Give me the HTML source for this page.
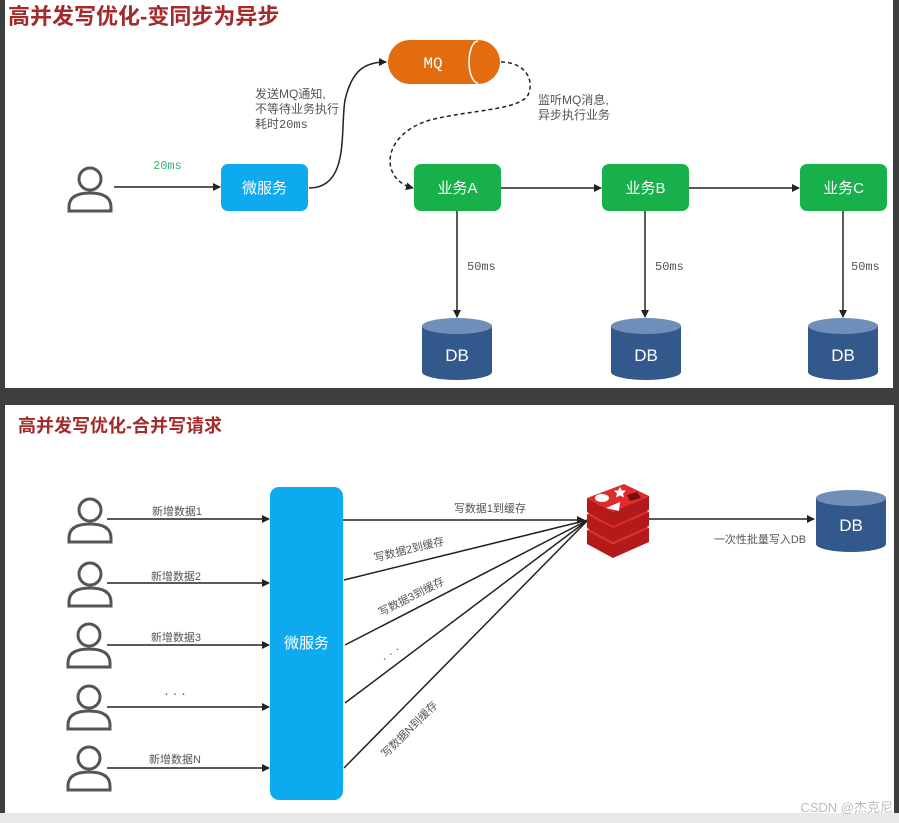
<!DOCTYPE html>
<html><head><meta charset="utf-8"><style>
html,body{margin:0;padding:0;background:#3d3f3e;}
svg{display:block;}
text{font-family:"Liberation Sans","Noto Sans CJK SC",sans-serif;}
.mono{font-family:"Liberation Mono","Noto Sans CJK SC",monospace;}
</style></head><body>
<svg width="899" height="823" viewBox="0 0 899 823" xmlns="http://www.w3.org/2000/svg">
<defs>
<marker id="ar" markerWidth="8" markerHeight="8" refX="7" refY="4" orient="auto" markerUnits="userSpaceOnUse"><path d="M0,0 L8,4 L0,8 Z" fill="#222"/></marker>
<g id="user" fill="none" stroke="#555" stroke-width="3"><circle cx="0" cy="-10" r="11"/><path d="M-21,22 L-21,18 Q-21,4 0,4 Q21,4 21,18 L21,22 Z"/></g>
<g id="db"><path d="M0,8 L0,54 A35,8 0 0 0 70,54 L70,8 Z" fill="#33598c"/><ellipse cx="35" cy="8" rx="35" ry="8" fill="#6f8fb8"/></g>
<g id="slab"><path d="M587,498 L587,512 L613,526 L649,510 L649,496 L613,512 Z" fill="#b51a1a"/><path d="M587,498 L624,484 L649,496 L613,512 Z" fill="#dc2c2c"/></g>
</defs>
<rect x="0" y="0" width="899" height="823" fill="#3d3f3e"/>
<rect x="0" y="813" width="899" height="10" fill="#e8e8e8"/>
<rect x="5" y="0" width="888" height="388" fill="#fff"/>
<rect x="5" y="405" width="889" height="408" fill="#fff"/>

<!-- TOP -->
<text x="8" y="24" font-size="22" font-weight="bold" fill="#a52a2a">高并发写优化-变同步为异步</text>
<use href="#user" x="90" y="189"/>
<line x1="114" y1="187" x2="220" y2="187" stroke="#222" stroke-width="1.5" marker-end="url(#ar)"/>
<text x="153" y="169" class="mono" font-size="12" fill="#3cb371">20ms</text>
<rect x="221" y="164" width="87" height="47" rx="7" fill="#0eaaf0"/>
<text x="264.5" y="193" font-size="15" fill="#fff" text-anchor="middle">微服务</text>
<path d="M309,188 C350,188 340,130 345,100 C352,70 365,62 386,62" fill="none" stroke="#222" stroke-width="1.5" marker-end="url(#ar)"/>
<text x="255" y="98" font-size="12" fill="#555">发送MQ通知,</text>
<text x="255" y="113" font-size="12" fill="#555">不等待业务执行</text>
<text x="255" y="128" font-size="12" fill="#555">耗时<tspan class="mono">20ms</tspan></text>
<rect x="388" y="40" width="112" height="44" rx="22" fill="#e36c0f"/>
<path d="M478,41 A9,21 0 0 0 478,83" fill="none" stroke="#fff" stroke-width="1.5"/>
<text x="433" y="68" class="mono" font-size="16" fill="#fff" text-anchor="middle">MQ</text>
<path d="M501,62 C525,62 535,80 528,95 C520,110 470,110 430,120 C380,135 380,180 413,188" fill="none" stroke="#222" stroke-width="1.5" stroke-dasharray="4,3" marker-end="url(#ar)"/>
<text x="538" y="104" font-size="12" fill="#555">监听MQ消息,</text>
<text x="538" y="119" font-size="12" fill="#555">异步执行业务</text>
<rect x="414" y="164" width="87" height="47" rx="7" fill="#17b04a"/>
<rect x="602" y="164" width="87" height="47" rx="7" fill="#17b04a"/>
<rect x="800" y="164" width="87" height="47" rx="7" fill="#17b04a"/>
<text x="457.5" y="193" font-size="15" fill="#fff" text-anchor="middle">业务A</text>
<text x="645.5" y="193" font-size="15" fill="#fff" text-anchor="middle">业务B</text>
<text x="843.5" y="193" font-size="15" fill="#fff" text-anchor="middle">业务C</text>
<line x1="501" y1="188" x2="601" y2="188" stroke="#222" stroke-width="1.5" marker-end="url(#ar)"/>
<line x1="689" y1="188" x2="799" y2="188" stroke="#222" stroke-width="1.5" marker-end="url(#ar)"/>
<line x1="457" y1="211" x2="457" y2="317" stroke="#222" stroke-width="1.5" marker-end="url(#ar)"/>
<line x1="645" y1="211" x2="645" y2="317" stroke="#222" stroke-width="1.5" marker-end="url(#ar)"/>
<line x1="843" y1="211" x2="843" y2="317" stroke="#222" stroke-width="1.5" marker-end="url(#ar)"/>
<text x="467" y="270" class="mono" font-size="12" fill="#555">50ms</text>
<text x="655" y="270" class="mono" font-size="12" fill="#555">50ms</text>
<text x="851" y="270" class="mono" font-size="12" fill="#555">50ms</text>
<use href="#db" x="422" y="318"/><use href="#db" x="611" y="318"/><use href="#db" x="808" y="318"/>
<text x="457" y="361" font-size="17" fill="#fff" text-anchor="middle">DB</text>
<text x="646" y="361" font-size="17" fill="#fff" text-anchor="middle">DB</text>
<text x="843" y="361" font-size="17" fill="#fff" text-anchor="middle">DB</text>

<!-- BOTTOM -->
<text x="18" y="432" font-size="18" font-weight="bold" fill="#a52a2a">高并发写优化-合并写请求</text>
<g>
<use href="#user" x="90" y="520"/><use href="#user" x="90" y="584"/><use href="#user" x="89" y="645"/><use href="#user" x="89" y="707"/><use href="#user" x="89" y="768"/>
</g>
<g stroke="#222" stroke-width="1.5" marker-end="url(#ar)">
<line x1="107" y1="519" x2="269" y2="519"/>
<line x1="107" y1="583" x2="269" y2="583"/>
<line x1="107" y1="645" x2="269" y2="645"/>
<line x1="107" y1="707" x2="269" y2="707"/>
<line x1="107" y1="768" x2="269" y2="768"/>
</g>
<g font-size="11" fill="#555" text-anchor="middle">
<text x="177" y="515">新增数据1</text><text x="176" y="580">新增数据2</text><text x="176" y="641">新增数据3</text><text x="175" y="698" font-size="14">· · ·</text><text x="175" y="763">新增数据N</text>
</g>
<rect x="270" y="487" width="73" height="313" rx="9" fill="#0eaaf0"/>
<text x="306.5" y="648" font-size="15" fill="#fff" text-anchor="middle">微服务</text>
<g stroke="#222" stroke-width="1.5" fill="none">
<line x1="343" y1="520" x2="584" y2="520" marker-end="url(#ar)"/>
<line x1="344" y1="580" x2="588" y2="520"/>
<line x1="345" y1="645" x2="588" y2="520"/>
<line x1="345" y1="703" x2="588" y2="520"/>
<line x1="344" y1="768" x2="588" y2="520"/>
</g>
<text x="490" y="512" font-size="11" fill="#555" text-anchor="middle">写数据1到缓存</text>
<text x="410" y="553" font-size="11" fill="#555" text-anchor="middle" transform="rotate(-14 410 553)">写数据2到缓存</text>
<text x="413" y="600" font-size="11" fill="#555" text-anchor="middle" transform="rotate(-27 413 600)">写数据3到缓存</text>
<text x="393" y="657" font-size="13" fill="#555" text-anchor="middle" transform="rotate(-37 393 657)">· · ·</text>
<text x="412" y="732" font-size="11" fill="#555" text-anchor="middle" transform="rotate(-45 412 732)">写数据N到缓存</text>
<!-- redis -->
<g>
<use href="#slab" y="32"/>
<use href="#slab" y="16"/>
<use href="#slab" y="0"/>
<ellipse cx="602" cy="498" rx="7" ry="4" fill="#fff"/>
<path d="M620,487 l2,3.5 4,0 -3,3 1,4 -4,-2 -4,2 1,-4 -3,-3 4,0 Z" fill="#fff"/>
<path d="M606,508 L620,502 L619,511 Z" fill="#fff"/>
<path d="M627,495 L637,492 L641,498 L630,501 Z" fill="#7a0e0e"/>
</g>
<line x1="649" y1="519" x2="814" y2="519" stroke="#222" stroke-width="1.5" marker-end="url(#ar)"/>
<text x="760" y="543" font-size="11" fill="#555" text-anchor="middle">一次性批量写入DB</text>
<use href="#db" x="816" y="490"/>
<text x="851" y="531" font-size="17" fill="#fff" text-anchor="middle">DB</text>
<text x="893" y="812" font-size="13" fill="#bbb" text-anchor="end">CSDN @杰克尼</text>
</svg>
</body></html>
